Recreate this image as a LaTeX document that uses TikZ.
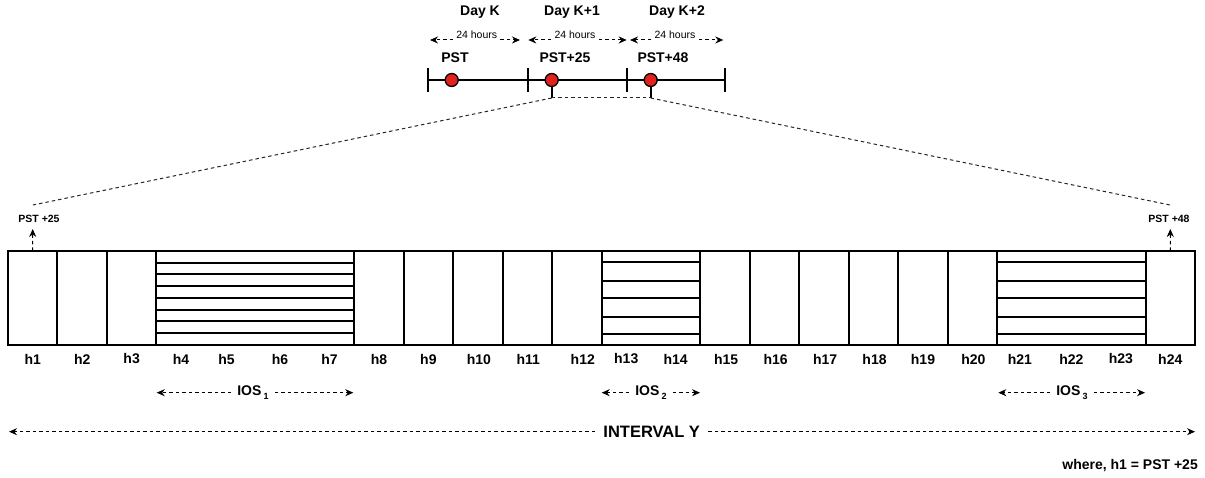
\documentclass[tikz,border=0pt]{standalone}
\usepackage{fontspec}
\setmainfont{Liberation Sans}
\usetikzlibrary{arrows.meta,calc}
\begin{document}
\begin{tikzpicture}[x=1pt,y=-1pt,
  cellbox/.style={minimum width=49.458pt,minimum height=94pt,
                  inner sep=0pt,outer sep=0pt,anchor=north west},
  frame/.style={line width=2pt},
  stripe/.style={line width=2pt},
  tl/.style={line width=2pt},
  dot/.style={circle,draw,line width=1.3pt,fill={rgb,255:red,225;green,35;blue,30},
              minimum size=13pt,inner sep=0pt},
  lab/.style={font=\fontsize{14}{16}\selectfont\bfseries,inner sep=0pt},
  smalllab/.style={font=\fontsize{10.5}{12}\selectfont\bfseries,inner sep=0pt},
  hourlab/.style={font=\fontsize{10.5}{12}\selectfont,inner sep=3pt},
  spanlab/.style={font=\fontsize{14}{16}\selectfont\bfseries,inner sep=6pt},
  bigspan/.style={font=\fontsize{16.5}{18}\selectfont\bfseries,inner sep=8pt},
  dimline/.style={line width=1pt,dash pattern=on 3.5pt off 3pt},
  tipl/.style={-{Stealth[length=8pt,width=7pt]}},
  zoomline/.style={line width=1pt,dash pattern=on 3.5pt off 3pt,black!85},
]
\useasboundingbox (0,0) rectangle (1205,478);

% ---------- three-day timeline ----------
\coordinate (t0) at (428.3,80);
\coordinate (t1) at (527.7,80);
\coordinate (t2) at (626.7,80);
\coordinate (t3) at (725,80);
\draw[tl] (t0) -- (t3);
\foreach \t in {t0,t1,t2,t3}
  \draw[tl] ($(\t)+(0,-12)$) -- ($(\t)+(0,12)$);

\node[lab] (dk0) at (480,12) {Day K};
\node[lab] (dk1) at (572,12) {Day K+1};
\node[lab] (dk2) at (677,12) {Day K+2};

% 24-hour spans
\foreach \n/\xa/\xm/\xb in {0/430/476.7/520, 1/528.3/575/626.7, 2/630/675/723.3}{
  \coordinate (ha\n) at (\xa,40);
  \coordinate (hb\n) at (\xb,40);
  \node[hourlab,anchor=base] (hl\n) at (\xm,39) {24 hours};
  \draw[dimline,tipl] (ha\n -| hl\n.west) -- (ha\n);
  \draw[dimline,tipl] (hb\n -| hl\n.east) -- (hb\n);
}

\node[lab] (pst0) at (455,58) {PST};
\node[lab] (pst1) at (565,58) {PST+25};
\node[lab] (pst2) at (663,58) {PST+48};

\node[dot] (p0) at (451.7,80) {};
\node[dot] (p1) at (551.7,80) {};
\node[dot] (p2) at (650.7,80) {};

% stems down from the marked instants and the zoom lines
\coordinate (s1) at (551.7,98);
\coordinate (s2) at (650.7,98);
\draw[tl] (p1.south) -- (s1);
\draw[tl] (p2.south) -- (s2);
\coordinate (e1) at (33,205);
\coordinate (e2) at (1170,205);
\draw[zoomline] (s1) -- (s2);
\draw[zoomline] (s1) -- (e1);
\draw[zoomline] (s2) -- (e2);

% ---------- hourly cells ----------
\foreach \i in {1,...,24}
  \node[cellbox] (c\i) at ({8+(\i-1)*49.458},251) {};
\draw[frame] (c1.north west) rectangle (c24.south east);
% dividers between hours (none inside the striped blocks)
\foreach \i in {1,2,3,7,8,9,10,11,12,14,15,16,17,18,19,20,23}
  \draw[frame] (c\i.north east) -- (c\i.south east);

% striped blocks
\foreach \k in {1,...,7}
  \draw[stripe] ($(c4.north west)!\k/8!(c4.south west)$) -- ($(c7.north east)!\k/8!(c7.south east)$);
\foreach \f in {0.122,0.314,0.505,0.697,0.888}{
  \draw[stripe] ($(c13.north west)!\f!(c13.south west)$) -- ($(c14.north east)!\f!(c14.south east)$);
  \draw[stripe] ($(c21.north west)!\f!(c21.south west)$) -- ($(c23.north east)!\f!(c23.south east)$);
}

% hour labels
\foreach \i/\dx in {1/0,2/0,3/0,4/0,5/-4,6/0,7/0,8/0,9/0,10/1,11/1,12/6,
                    13/0,14/0,15/1,16/1,17/1,18/1,19/0,20/1,21/-2,22/0,23/0,24/0}
  \node[lab] (l\i) at ($(c\i.south)+(\dx,14)$) {h\i};

% start / end markers
\node[smalllab] (m1) at (39,219) {PST +25};
\node[smalllab] (m2) at (1169,219) {PST +48};
\coordinate (m1t) at (32.7,229);
\coordinate (m2t) at (1170.3,229);
\draw[dimline,tipl] (c1.north) -- (m1t);
\draw[dimline,tipl] (c24.north) -- (m2t);

% ---------- spans ----------
\foreach \n/\xa/\xm/\xb/\s in {1/156.7/253/353.3/1, 2/601.7/651/700/2, 3/998.3/1072/1145/3}{
  \coordinate (ia\n) at (\xa,392.7);
  \coordinate (ib\n) at (\xb,392.7);
  \node[spanlab] (il\n) at (\xm,392.7) {IOS\,\raisebox{-3.5pt}{\fontsize{9}{10}\selectfont\s}};
  \draw[dimline,tipl] (il\n.west) -- (ia\n);
  \draw[dimline,tipl] (il\n.east) -- (ib\n);
}

\coordinate (ya) at (9,431.7);
\coordinate (yb) at (1195,431.7);
\node[bigspan] (iy) at (651.7,431.7) {INTERVAL Y};
\draw[dimline,tipl] (iy.west) -- (ya);
\draw[dimline,tipl] (iy.east) -- (yb);

\node[lab,anchor=east] (note) at (1198,465.7) {where, h1 = PST +25};
\end{tikzpicture}
\end{document}
